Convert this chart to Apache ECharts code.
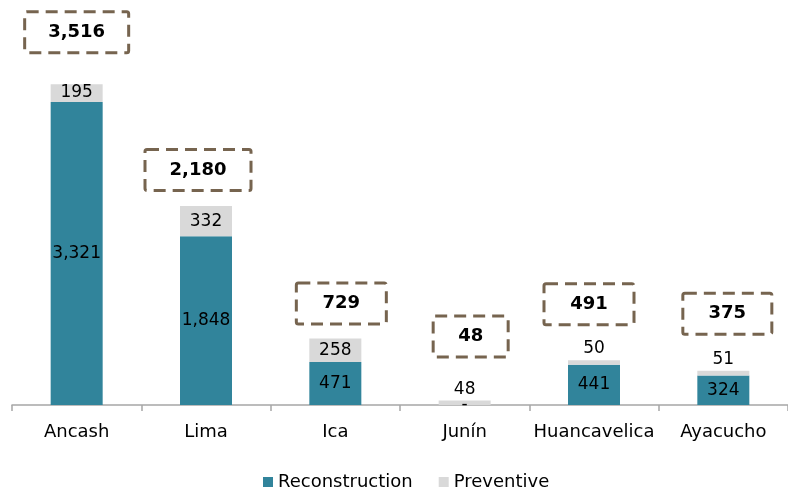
<!DOCTYPE html>
<html>
<head>
<meta charset="utf-8">
<script src="https://cdn.jsdelivr.net/npm/echarts@6/dist/echarts.min.js"></script>
<style>
  html, body { margin: 0; padding: 0; background: #fff; }
  #chart { width: 788px; height: 488px; }
</style>
</head>
<body>
<div id="chart"></div>
<script>
// Investment by region, split into reconstruction and preventive works
const regions = ['Ancash', 'Lima', 'Ica', 'Junín', 'Huancavelica', 'Ayacucho'];
const reconstruction = [3321, 1848, 471, 0, 441, 324];
const preventive = [195, 332, 258, 48, 50, 51];
const totals = [3516, 2180, 729, 48, 491, 375];

// Placement of the dashed total boxes: [x shift, lift above bar top, box width]
const boxLayout = [
  [0, 52, 104],
  [-8, 36, 106],
  [6, 35, 90],
  [6, 64, 75],
  [-5, 56, 90],
  [4, 57, 89]
];

const FONT = 'DejaVu Sans';
const TEAL = '#31849B';
const GREY = '#D9D9D9';
const BOX = '#76644F';

const fmt = v => (v === 0 ? '-' : v.toLocaleString('en-US'));

const chart = echarts.init(document.getElementById('chart'), null, { renderer: 'canvas' });

const totalData = totals.map((t, i) => ({
  value: [regions[i], t],
  label: {
    offset: [boxLayout[i][0], -boxLayout[i][1]],
    width: boxLayout[i][2],
    height: 41
  }
}));

chart.setOption({
  animation: false,
  backgroundColor: '#fff',
  grid: { left: 12, width: 785, top: 40, height: 365 },
  legend: {
    data: ['Reconstruction', 'Preventive'],
    left: 258,
    top: 468,
    icon: 'rect',
    itemWidth: 10,
    itemHeight: 10,
    itemGap: 26,
    textStyle: { fontFamily: FONT, fontSize: 18, color: '#000' }
  },
  xAxis: {
    type: 'category',
    data: regions,
    axisLine: { lineStyle: { color: '#A6A6A6', width: 1.5 } },
    axisTick: { show: true, interval: 0, alignWithLabel: false, length: 6, lineStyle: { color: '#A6A6A6', width: 1.5 } },
    axisLabel: { interval: 0, fontFamily: FONT, fontSize: 18, color: '#000', margin: 18 }
  },
  yAxis: {
    type: 'value',
    min: 0,
    max: 4000,
    show: false,
    splitLine: { show: false }
  },
  series: [
    {
      name: 'Reconstruction',
      type: 'bar',
      stack: 'total',
      barWidth: 52,
      data: reconstruction,
      itemStyle: { color: TEAL },
      label: {
        show: true,
        position: 'inside',
        fontFamily: FONT,
        fontSize: 17,
        color: '#000',
        textBorderWidth: 0,
        formatter: p => fmt(p.value)
      }
    },
    {
      name: 'Preventive',
      type: 'bar',
      stack: 'total',
      barWidth: 52,
      data: preventive.map(v => ({
        value: v,
        label: { position: v < 100 ? 'top' : 'inside', distance: 3 }
      })),
      itemStyle: { color: GREY },
      label: {
        show: true,
        fontFamily: FONT,
        fontSize: 17,
        color: '#000',
        textBorderWidth: 0,
        formatter: p => fmt(p.value)
      }
    },
    {
      // Totals drawn as dashed boxes above each stack
      name: 'Total',
      type: 'scatter',
      symbolSize: 1,
      silent: true,
      z: 10,
      itemStyle: { color: 'transparent', opacity: 1 },
      data: totalData,
      label: {
        show: true,
        position: 'inside',
        fontFamily: FONT,
        fontSize: 18,
        fontWeight: 'bold',
        color: '#000',
        textBorderWidth: 0,
        align: 'center',
        verticalAlign: 'middle',
        lineHeight: 41,
        borderColor: BOX,
        borderWidth: 3,
        borderType: [12, 7],
        borderRadius: 2,
        padding: 0,
        formatter: p => fmt(p.value[1])
      }
    }
  ]
});
</script>
</body>
</html>
